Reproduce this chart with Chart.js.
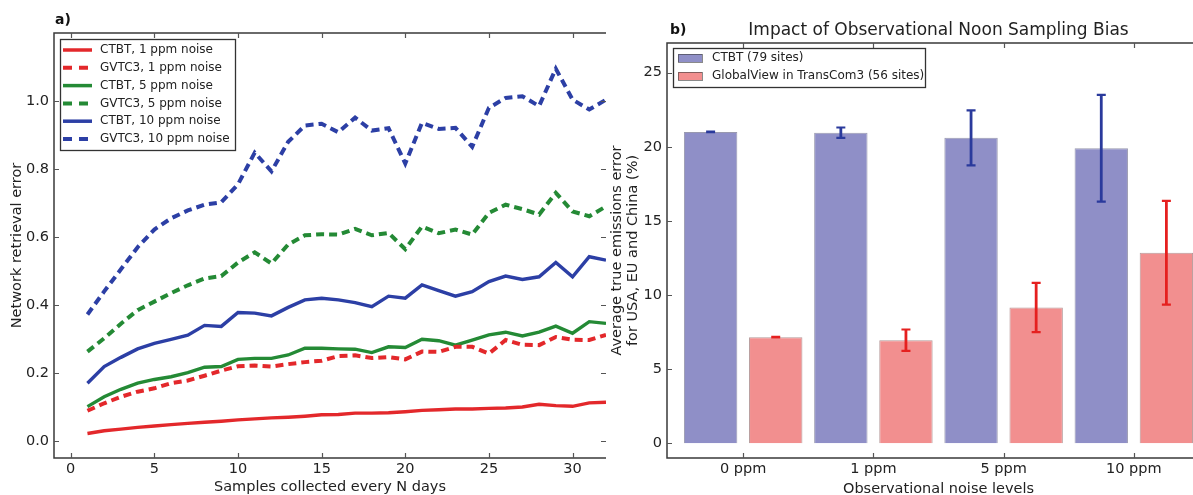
<!DOCTYPE html>
<html>
<head>
<meta charset="utf-8">
<script src="https://cdn.jsdelivr.net/npm/chart.js@4.4.1/dist/chart.umd.min.js"></script>
<style>
  html, body { margin: 0; padding: 0; background: #ffffff; width: 1193px; height: 495px; overflow: hidden; }
  #panelA { position: absolute; left: 0; top: 0; width: 610px; height: 495px; }
  #panelB { position: absolute; left: 610px; top: 0; width: 600px; height: 495px; }
</style>
</head>
<body>
<div id="panelA"><canvas id="retrievalChart" width="610" height="495"></canvas></div>
<div id="panelB"><canvas id="biasChart" width="600" height="495"></canvas></div>
<script>
// ---- Panel a: network retrieval error vs sampling interval ----
const sampleDays = [1,2,3,4,5,6,7,8,9,10,11,12,13,14,15,16,17,18,19,20,21,22,23,24,25,26,27,28,29,30,31,32];
const ctbt1ppm  = [0.022,0.030,0.035,0.040,0.044,0.048,0.052,0.055,0.058,0.062,0.065,0.068,0.070,0.073,0.077,0.078,0.082,0.082,0.083,0.086,0.090,0.092,0.094,0.094,0.096,0.097,0.100,0.108,0.104,0.102,0.112,0.114];
const gvtc1ppm  = [0.089,0.111,0.130,0.145,0.155,0.170,0.178,0.192,0.207,0.220,0.222,0.219,0.226,0.232,0.236,0.250,0.252,0.244,0.247,0.240,0.263,0.262,0.277,0.277,0.257,0.297,0.283,0.282,0.306,0.298,0.297,0.312];
const ctbt5ppm  = [0.101,0.130,0.152,0.170,0.181,0.189,0.201,0.217,0.219,0.240,0.243,0.243,0.253,0.273,0.273,0.271,0.270,0.260,0.277,0.275,0.299,0.295,0.282,0.297,0.312,0.320,0.309,0.320,0.338,0.317,0.351,0.346];
const gvtc5ppm  = [0.263,0.302,0.345,0.385,0.410,0.435,0.458,0.478,0.485,0.525,0.555,0.522,0.578,0.605,0.608,0.607,0.624,0.605,0.612,0.564,0.631,0.611,0.622,0.607,0.671,0.695,0.682,0.666,0.730,0.675,0.661,0.690];
const ctbt10ppm = [0.170,0.219,0.246,0.271,0.287,0.299,0.311,0.340,0.337,0.378,0.376,0.368,0.393,0.415,0.420,0.415,0.407,0.395,0.426,0.420,0.459,0.442,0.426,0.439,0.469,0.485,0.475,0.483,0.525,0.483,0.542,0.532];
const gvtc10ppm = [0.372,0.440,0.505,0.570,0.622,0.655,0.678,0.695,0.702,0.755,0.848,0.793,0.880,0.928,0.933,0.908,0.951,0.913,0.920,0.816,0.936,0.918,0.921,0.865,0.980,1.009,1.014,0.985,1.095,1.004,0.975,1.004];
const retrievalXTicks = [0,5,10,15,20,25,30];
const retrievalYTicks = [0.0,0.2,0.4,0.6,0.8,1.0];

// ---- Panel b: noon sampling bias ----
const noiseLevels = ['0 ppm','1 ppm','5 ppm','10 ppm'];
const ctbtMean = [21.0, 20.95, 20.6, 19.9];
const ctbtErr  = [0.02, 0.35, 1.85, 3.6];
const gvMean   = [7.15, 6.95, 9.15, 12.85];
const gvErr    = [0.02, 0.72, 1.66, 3.5];
const biasYTicks = [0,5,10,15,20,25];

const FONT = 'DejaVu Sans';
const RED = '#e3282b', GREEN = '#248a35', BLUE = '#2c3fa5';
const DASH = [8, 5];

// matplotlib-style box frame with inward tick marks
function frameTicks(drawRight) {
  return {
    id: 'frameTicks',
    afterDatasetsDraw(chart) {
      const {ctx, chartArea: a, scales: {x, y}} = chart;
      ctx.save();
      ctx.strokeStyle = '#3a3a3a';
      ctx.lineWidth = 1.5;
      ctx.beginPath();
      ctx.moveTo(a.right, a.top); ctx.lineTo(a.left, a.top);
      ctx.lineTo(a.left, a.bottom); ctx.lineTo(a.right, a.bottom);
      if (drawRight) ctx.lineTo(a.right, a.top);
      ctx.stroke();
      ctx.strokeStyle = '#555';
      ctx.lineWidth = 1.2;
      const L = 5;
      ctx.beginPath();
      x.ticks.forEach(t => {
        const px = Math.round(x.getPixelForValue(t.value)) + 0.5;
        ctx.moveTo(px, a.bottom); ctx.lineTo(px, a.bottom - L);
        ctx.moveTo(px, a.top); ctx.lineTo(px, a.top + L);
      });
      y.ticks.forEach(t => {
        const py = Math.round(y.getPixelForValue(t.value)) + 0.5;
        ctx.moveTo(a.left, py); ctx.lineTo(a.left + L, py);
        ctx.moveTo(a.right, py); ctx.lineTo(a.right - L, py);
      });
      ctx.stroke();
      ctx.restore();
    }
  };
}

// legend box drawn inside the plot area
function boxLegend(id, box, items) {
  return {
    id,
    afterDraw(chart) {
      const ctx = chart.ctx;
      ctx.save();
      ctx.fillStyle = '#ffffff';
      ctx.fillRect(box.x, box.y, box.w, box.h);
      ctx.strokeStyle = '#333';
      ctx.lineWidth = 1.3;
      ctx.strokeRect(box.x + 0.5, box.y + 0.5, box.w, box.h);
      ctx.font = '12px "' + FONT + '"';
      ctx.textBaseline = 'middle';
      ctx.fillStyle = '#222';
      items.forEach((it, i) => {
        const cy = box.firstRow + i * box.rowGap;
        if (it.kind === 'line') {
          ctx.save();
          ctx.strokeStyle = it.color;
          ctx.lineWidth = it.dash ? 4 : 3.5;
          ctx.setLineDash(it.dash ? [9, 7] : []);
          ctx.beginPath();
          ctx.moveTo(box.handleX, cy); ctx.lineTo(box.handleX + box.handleW, cy);
          ctx.stroke();
          ctx.restore();
        } else {
          ctx.fillStyle = it.color;
          ctx.fillRect(box.handleX, cy - 4, box.handleW, 8);
          ctx.strokeStyle = 'rgba(60,60,60,0.6)';
          ctx.lineWidth = 1;
          ctx.strokeRect(box.handleX + 0.5, cy - 4 + 0.5, box.handleW, 8);
        }
        ctx.fillStyle = '#222';
        ctx.fillText(it.text, box.textX, cy);
      });
      ctx.restore();
    }
  };
}

function panelLabel(id, letter, lx, ly, title) {
  return {
    id,
    afterDraw(chart) {
      const ctx = chart.ctx;
      ctx.save();
      ctx.fillStyle = '#111';
      ctx.textBaseline = 'middle';
      ctx.font = 'bold 14px "' + FONT + '"';
      ctx.fillText(letter, lx, ly);
      if (title) {
        ctx.font = '17px "' + FONT + '"';
        ctx.textAlign = 'center';
        ctx.fillStyle = '#222';
        const a = chart.chartArea;
        ctx.fillText(title, (a.left + a.right) / 2, 31);
      }
      ctx.restore();
    }
  };
}

function series(label, values, color, dashed) {
  return {
    label,
    data: sampleDays.map((d, i) => ({x: d, y: values[i]})),
    borderColor: color,
    borderWidth: dashed ? 4 : 3.4,
    borderDash: dashed ? DASH : [],
    borderCapStyle: 'butt',
    pointRadius: 0,
    tension: 0,
    fill: false
  };
}

const tickFont = {family: FONT, size: 14.5};
const titleFont = {family: FONT, size: 14.5};

new Chart(document.getElementById('retrievalChart'), {
  type: 'line',
  data: {
    datasets: [
      series('CTBT, 1 ppm noise', ctbt1ppm, RED, false),
      series('GVTC3, 1 ppm noise', gvtc1ppm, RED, true),
      series('CTBT, 5 ppm noise', ctbt5ppm, GREEN, false),
      series('GVTC3, 5 ppm noise', gvtc5ppm, GREEN, true),
      series('CTBT, 10 ppm noise', ctbt10ppm, BLUE, false),
      series('GVTC3, 10 ppm noise', gvtc10ppm, BLUE, true)
    ]
  },
  options: {
    responsive: false,
    animation: false,
    layout: {padding: {top: 33, right: 4, left: 0, bottom: 0}},
    plugins: {legend: {display: false}, tooltip: {enabled: false}},
    scales: {
      x: {
        type: 'linear', min: -1, max: 32,
        grid: {display: false, drawTicks: false},
        border: {display: false},
        afterBuildTicks: s => { s.ticks = retrievalXTicks.map(v => ({value: v})); },
        afterFit: s => { s.height = 37; },
        ticks: {font: tickFont, color: '#222', padding: 3, maxRotation: 0, callback: v => String(v)},
        title: {display: true, text: 'Samples collected every N days', font: titleFont, color: '#222', padding: {top: 0, bottom: -1}}
      },
      y: {
        type: 'linear', min: -0.05, max: 1.2,
        grid: {display: false, drawTicks: false},
        border: {display: false},
        afterBuildTicks: s => { s.ticks = retrievalYTicks.map(v => ({value: v})); },
        afterFit: s => { s.width = 54; },
        ticks: {font: tickFont, color: '#222', padding: 5, callback: v => v.toFixed(1)},
        title: {display: true, text: 'Network retrieval error', font: titleFont, color: '#222', padding: {top: 9, bottom: 0}}
      }
    }
  },
  plugins: [
    frameTicks(false),
    boxLegend('retrievalLegend',
      {x: 60, y: 39, w: 175, h: 111, firstRow: 50, rowGap: 17.8, handleX: 63, handleW: 29, textX: 100},
      [
        {kind: 'line', color: RED, dash: false, text: 'CTBT, 1 ppm noise'},
        {kind: 'line', color: RED, dash: true, text: 'GVTC3, 1 ppm noise'},
        {kind: 'line', color: GREEN, dash: false, text: 'CTBT, 5 ppm noise'},
        {kind: 'line', color: GREEN, dash: true, text: 'GVTC3, 5 ppm noise'},
        {kind: 'line', color: BLUE, dash: false, text: 'CTBT, 10 ppm noise'},
        {kind: 'line', color: BLUE, dash: true, text: 'GVTC3, 10 ppm noise'}
      ]),
    panelLabel('labelA', 'a)', 55, 20, null)
  ]
});

// ---- bar chart with error bars ----
const CTBT_FILL = '#8f8fc7', GV_FILL = '#f28f8f';

const errorBars = {
  id: 'errorBars',
  afterDatasetsDraw(chart) {
    const {ctx, scales: {y}} = chart;
    ctx.save();
    chart.data.datasets.forEach((ds, di) => {
      const meta = chart.getDatasetMeta(di);
      meta.data.forEach((bar, j) => {
        const v = ds.data[j].y, e = ds.errorMargins[j];
        const yt = y.getPixelForValue(v + e), yb = y.getPixelForValue(v - e);
        const cx = bar.x;
        ctx.strokeStyle = ds.errorColor;
        ctx.lineWidth = 2.8;
        ctx.beginPath();
        ctx.moveTo(cx, yt); ctx.lineTo(cx, yb);
        ctx.stroke();
        ctx.lineWidth = 2.2;
        ctx.beginPath();
        ctx.moveTo(cx - 4.5, yt); ctx.lineTo(cx + 4.5, yt);
        ctx.moveTo(cx - 4.5, yb); ctx.lineTo(cx + 4.5, yb);
        ctx.stroke();
      });
    });
    ctx.restore();
  }
};

new Chart(document.getElementById('biasChart'), {
  type: 'bar',
  data: {
    datasets: [
      {
        label: 'CTBT (79 sites)',
        data: noiseLevels.map((_, i) => ({x: i, y: ctbtMean[i]})),
        errorMargins: ctbtErr,
        errorColor: '#2a3a9c',
        backgroundColor: CTBT_FILL,
        borderColor: 'rgba(70,70,110,0.55)',
        borderWidth: 1,
        categoryPercentage: 1.0,
        barPercentage: 0.82
      },
      {
        label: 'GlobalView in TransCom3 (56 sites)',
        data: noiseLevels.map((_, i) => ({x: i, y: gvMean[i]})),
        errorMargins: gvErr,
        errorColor: '#e5201f',
        backgroundColor: GV_FILL,
        borderColor: 'rgba(120,70,70,0.55)',
        borderWidth: 1,
        categoryPercentage: 1.0,
        barPercentage: 0.82
      }
    ]
  },
  options: {
    responsive: false,
    animation: false,
    layout: {padding: {top: 43, right: 0, left: 0, bottom: 0}},
    plugins: {legend: {display: false}, tooltip: {enabled: false}},
    scales: {
      x: {
        type: 'linear', min: -0.585, max: 3.585, offset: false,
        grid: {display: false, drawTicks: false},
        border: {display: false},
        afterBuildTicks: s => { s.ticks = noiseLevels.map((_, i) => ({value: i})); },
        afterFit: s => { s.height = 37; },
        ticks: {font: tickFont, color: '#222', padding: 3, maxRotation: 0, callback: v => noiseLevels[v]},
        title: {display: true, text: 'Observational noise levels', font: titleFont, color: '#222', padding: {top: 0, bottom: -3}}
      },
      y: {
        type: 'linear', min: -1, max: 27,
        grid: {display: false, drawTicks: false},
        border: {display: false},
        afterBuildTicks: s => { s.ticks = biasYTicks.map(v => ({value: v})); },
        afterFit: s => { s.width = 57; },
        ticks: {font: tickFont, color: '#222', padding: 5, callback: v => String(v)},
        title: {display: true, text: ['Average true emissions error', 'for USA, EU and China (%)'],
                font: {family: FONT, size: 14.5, lineHeight: 1.1}, color: '#222', padding: {top: -1, bottom: 0}}
      }
    }
  },
  plugins: [
    frameTicks(true),
    errorBars,
    boxLegend('biasLegend',
      {x: 63, y: 48, w: 252, h: 39, firstRow: 58, rowGap: 18, handleX: 68, handleW: 24, textX: 102},
      [
        {kind: 'patch', color: CTBT_FILL, text: 'CTBT (79 sites)'},
        {kind: 'patch', color: GV_FILL, text: 'GlobalView in TransCom3 (56 sites)'}
      ]),
    panelLabel('labelB', 'b)', 60, 30, 'Impact of Observational Noon Sampling Bias')
  ]
});
</script>
</body>
</html>
